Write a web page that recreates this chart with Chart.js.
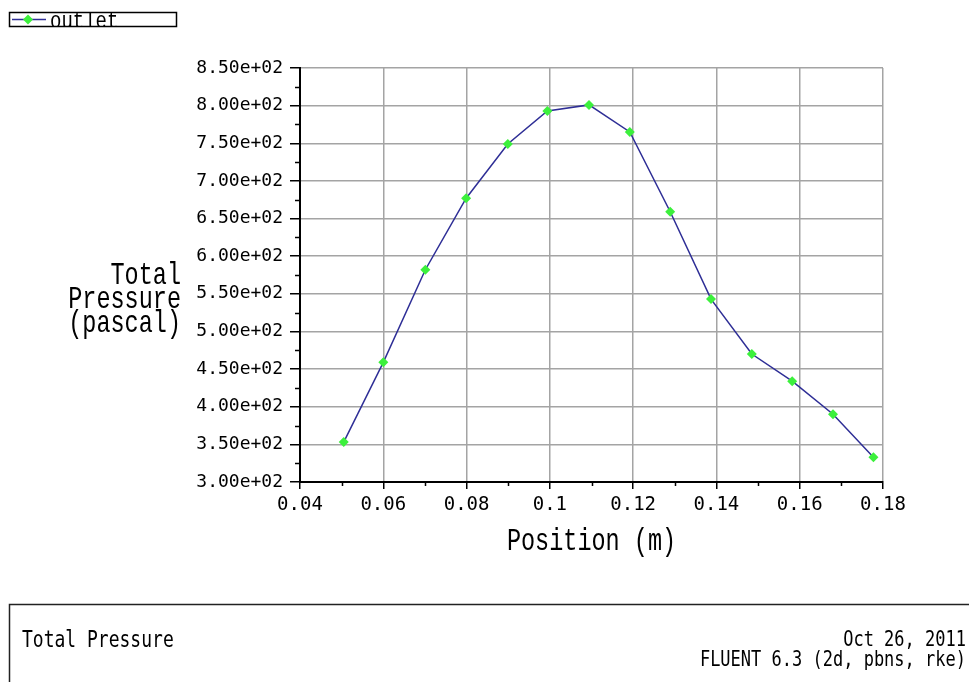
<!DOCTYPE html>
<html>
<head>
<meta charset="utf-8">
<title>Total Pressure</title>
<script src="https://cdn.jsdelivr.net/npm/chart.js@4.4.1/dist/chart.umd.min.js"></script>
<style>
  html, body { margin: 0; padding: 0; background: #ffffff; }
  #wrap { width: 969px; height: 682px; position: relative; }
  canvas { display: block; }
</style>
</head>
<body>
<div id="wrap"><canvas id="plot" width="969" height="682"></canvas></div>
<script>
// Total pressure along the outlet line (FLUENT XY plot export)
const positions = [0.0505, 0.0600, 0.0701, 0.0799, 0.0899, 0.0994, 0.1094,
                   0.1192, 0.1289, 0.1387, 0.1485, 0.1582, 0.1680, 0.1777];
const pressure  = [353, 459, 582, 677, 749, 793, 801,
                   765, 659, 543, 470, 434, 390, 333];

const xTickLabels = ['0.04', '0.06', '0.08', '0.1', '0.12', '0.14', '0.16', '0.18'];
const yTickLabels = ['3.00e+02', '3.50e+02', '4.00e+02', '4.50e+02', '5.00e+02', '5.50e+02',
                     '6.00e+02', '6.50e+02', '7.00e+02', '7.50e+02', '8.00e+02', '8.50e+02'];

const seriesName = 'outlet';
const xTitle = 'Position (m)';
const yTitleLines = ['Total', 'Pressure', '(pascal)'];
const footerLeft = 'Total Pressure';
const footerRight = ['Oct 26, 2011', 'FLUENT 6.3 (2d, pbns, rke)'];

const LINE_COLOR = '#2e2e96';
const MARK_COLOR = '#3cf03c';
const MONO = '"DejaVu Sans Mono", "Liberation Mono", monospace';
const THIN_MONO = '"Liberation Mono", "DejaVu Sans Mono", monospace';

// draw text with a vertical stretch so the glyphs come out tall and narrow
function stretchedText(ctx, text, x, y, size, sy, align, family) {
  ctx.save();
  ctx.font = size + 'px ' + (family || MONO);
  ctx.textAlign = align;
  ctx.textBaseline = 'alphabetic';
  ctx.translate(x, y);
  ctx.scale(1, sy);
  ctx.fillText(text, 0, 0);
  ctx.restore();
}

const decorations = {
  id: 'decorations',
  afterDraw(chart) {
    const ctx = chart.ctx;
    const xs = chart.scales.x, ys = chart.scales.y;
    const area = chart.chartArea;

    // minor ticks
    ctx.save();
    ctx.strokeStyle = '#000';
    ctx.lineWidth = 1.5;
    ctx.beginPath();
    for (let v = 325; v < 850; v += 50) {
      const py = Math.round(ys.getPixelForValue(v)) + 0.5;
      ctx.moveTo(area.left - 5, py);
      ctx.lineTo(area.left, py);
    }
    for (let k = 0; k < 7; k++) {
      const px = Math.round(xs.getPixelForValue(0.05 + k * 0.02)) + 0.5;
      ctx.moveTo(px, area.bottom);
      ctx.lineTo(px, area.bottom + 4);
    }
    ctx.stroke();
    ctx.restore();

    ctx.save();
    ctx.fillStyle = '#000';

    // axis titles
    stretchedText(ctx, xTitle, (area.left + area.right) / 2, 550, 23.5, 1.33, 'center', THIN_MONO);
    yTitleLines.forEach((t, i) => stretchedText(ctx, t, 181, 284 + i * 24, 23.5, 1.33, 'right', THIN_MONO));

    // legend
    ctx.strokeStyle = '#000';
    ctx.lineWidth = 1.5;
    ctx.strokeRect(9.5, 12.5, 167, 14);
    ctx.strokeStyle = LINE_COLOR;
    ctx.beginPath();
    ctx.moveTo(12, 19.5);
    ctx.lineTo(46, 19.5);
    ctx.stroke();
    ctx.fillStyle = MARK_COLOR;
    ctx.beginPath();
    ctx.moveTo(28, 14.5); ctx.lineTo(33, 19.5); ctx.lineTo(28, 24.5); ctx.lineTo(23, 19.5);
    ctx.closePath();
    ctx.fill();
    ctx.fillStyle = '#000';
    ctx.save();
    ctx.beginPath();
    ctx.rect(10, 13, 166, 13);
    ctx.clip();
    stretchedText(ctx, seriesName, 50, 28, 19, 1.3, 'left', THIN_MONO);
    ctx.restore();

    // footer box
    ctx.strokeStyle = '#222';
    ctx.lineWidth = 1.5;
    ctx.strokeRect(9.5, 604.5, 990, 120);
    stretchedText(ctx, footerLeft, 22, 647, 18, 1.25, 'left');
    stretchedText(ctx, footerRight[0], 966, 646, 17, 1.25, 'right');
    stretchedText(ctx, footerRight[1], 966, 666, 17, 1.25, 'right');
    ctx.restore();
  }
};

const whiteBg = {
  id: 'whiteBg',
  beforeDraw(chart) {
    const ctx = chart.ctx;
    ctx.save();
    ctx.fillStyle = '#ffffff';
    ctx.fillRect(0, 0, chart.width, chart.height);
    ctx.restore();
  }
};

new Chart(document.getElementById('plot'), {
  type: 'scatter',
  data: {
    datasets: [{
      label: seriesName,
      data: positions.map((x, i) => ({ x: x, y: pressure[i] })),
      showLine: true,
      borderColor: LINE_COLOR,
      borderWidth: 1.5,
      pointStyle: 'rectRot',
      pointRadius: 5,
      pointBackgroundColor: MARK_COLOR,
      pointBorderColor: MARK_COLOR,
      pointBorderWidth: 0,
      tension: 0
    }]
  },
  options: {
    responsive: false,
    animation: false,
    events: [],
    layout: { padding: { left: 0, top: 68, right: 86, bottom: 160 } },
    plugins: {
      legend: { display: false },
      tooltip: { enabled: false },
      title: { display: false }
    },
    scales: {
      x: {
        type: 'linear',
        min: 0.04,
        max: 0.18,
        afterFit(scale) { scale.height = 40; },
        ticks: {
          stepSize: 0.02,
          autoSkip: false,
          maxRotation: 0,
          padding: 5,
          color: '#000',
          font: { family: MONO, size: 19 },
          callback: (v, i) => xTickLabels[i]
        },
        grid: { color: '#a4a4a4', lineWidth: 1.5, tickColor: '#000', tickLength: 7, tickWidth: 1.5 },
        border: { color: '#000', width: 2 }
      },
      y: {
        type: 'linear',
        min: 300,
        max: 850,
        afterFit(scale) { scale.width = 300; },
        ticks: {
          stepSize: 50,
          autoSkip: false,
          padding: 7,
          color: '#000',
          font: { family: MONO, size: 18 },
          callback: (v, i) => yTickLabels[i]
        },
        grid: { color: '#a4a4a4', lineWidth: 1.5, tickColor: '#000', tickLength: 10, tickWidth: 1.5 },
        border: { color: '#000', width: 2 }
      }
    }
  },
  plugins: [whiteBg, decorations]
});
</script>
</body>
</html>
